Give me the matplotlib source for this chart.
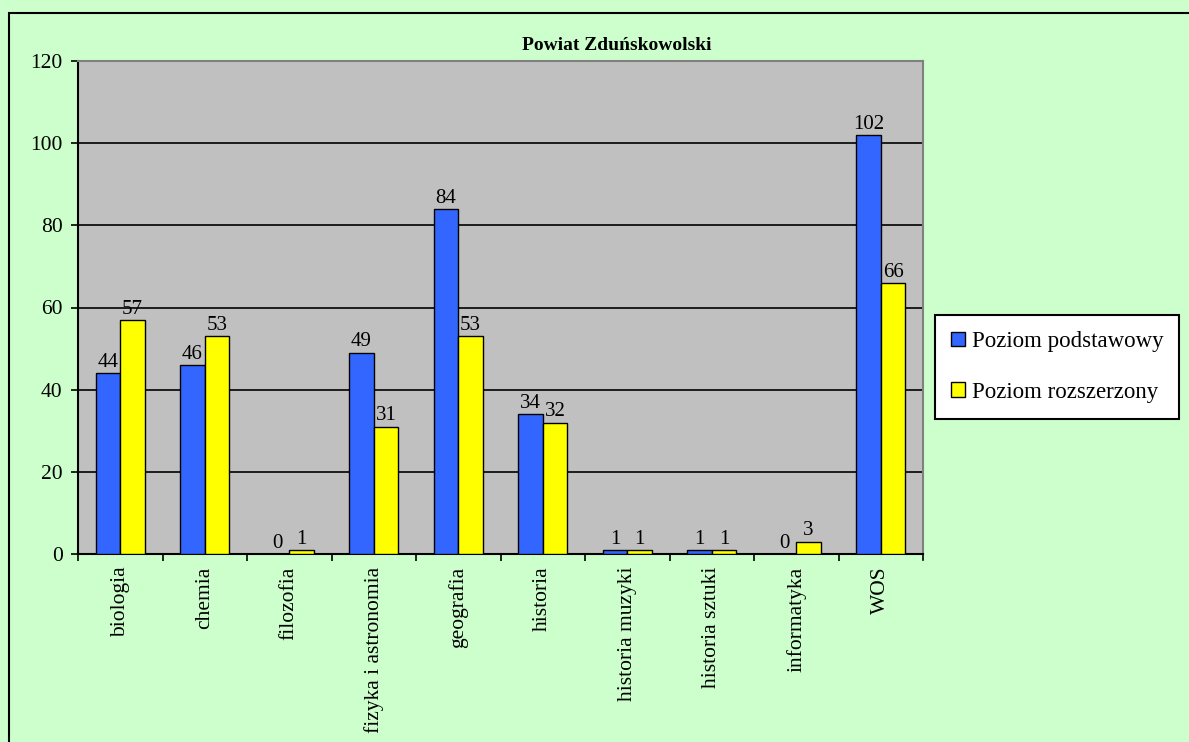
import matplotlib.pyplot as plt
import numpy as np
from matplotlib.patches import Rectangle

categories = ['biologia', 'chemia', 'filozofia', 'fizyka i astronomia', 'geografia',
              'historia', 'historia muzyki', 'historia sztuki', 'informatyka', 'WOS']
podstawowy = [44, 46, 0, 49, 84, 34, 1, 1, 0, 102]
rozszerzony = [57, 53, 1, 31, 53, 32, 1, 1, 3, 66]
series_names = ['Poziom podstawowy', 'Poziom rozszerzony']

plt.rcParams['font.family'] = ['Liberation Serif', 'DejaVu Serif']

fig = plt.figure(figsize=(11.89, 7.42), dpi=100)
fig.patch.set_facecolor('#CCFFCC')
# ramka wykresu (lewa i górna krawędź widoczna)
fig.add_artist(Rectangle((9 / 1189, -0.05), 1.2, 1 - 13 / 742 + 0.05, transform=fig.transFigure,
                         fill=False, edgecolor='black', linewidth=1.5))

ax = fig.add_axes([78 / 1189, 1 - 554 / 742, (923 - 78) / 1189, (554 - 61) / 742])
ax.set_facecolor('#C0C0C0')

x = np.arange(len(categories))
w = 0.29
b1 = ax.bar(x - w / 2, podstawowy, w, color='#3366FF', edgecolor='black', linewidth=1, zorder=3)
b2 = ax.bar(x + w / 2, rozszerzony, w, color='#FFFF00', edgecolor='black', linewidth=1, zorder=3)

for bars, vals in [(b1, podstawowy), (b2, rozszerzony)]:
    for r, v in zip(bars, vals):
        ax.text(r.get_x() + r.get_width() / 2, v + 0.3, str(v), ha='center', va='bottom',
                fontsize=15, zorder=4)

ax.set_xlim(-0.5, len(categories) - 0.5)
ax.set_ylim(0, 120)
ax.set_yticks(np.arange(0, 121, 20))
ax.yaxis.grid(True, color='black', linewidth=1.2, zorder=1)
ax.tick_params(axis='y', labelsize=15.5, direction='out', length=5, width=1.2, pad=6)

ax.set_xticks(x - 0.5, minor=False)
ax.set_xticklabels([])
ax.set_xticks(x, minor=True)
ax.set_xticklabels(categories, minor=True, rotation=90, fontsize=15.5, va='top')
ax.tick_params(axis='x', which='major', direction='out', length=5, width=1.2)
ax.tick_params(axis='x', which='minor', length=0, pad=9)
ax.axvline(len(categories) - 0.5, ymin=-0.012, ymax=0, color='black', clip_on=False, linewidth=1.2)

ax.spines['left'].set_linewidth(1.5)
ax.spines['bottom'].set_linewidth(1.5)
ax.spines['top'].set_color('#808080')
ax.spines['top'].set_linewidth(1.5)
ax.spines['right'].set_color('#808080')
ax.spines['right'].set_linewidth(1.5)

fig.text(617 / 1189, 1 - 45 / 742, 'Powiat Zduńskowolski', fontsize=14, fontweight='bold',
         ha='center', va='center')

leg = fig.legend([b1, b2], series_names, loc='upper left',
                 bbox_to_anchor=(935 / 1189, 1 - 315 / 742), fontsize=16.5,
                 frameon=True, fancybox=False, edgecolor='black', facecolor='white',
                 framealpha=1, handlelength=0.6, handleheight=0.6, handletextpad=0.3,
                 labelspacing=1.3, borderpad=0.7, borderaxespad=0)
leg.get_frame().set_linewidth(1.5)

fig.savefig('out.png', dpi=100, facecolor=fig.get_facecolor())
